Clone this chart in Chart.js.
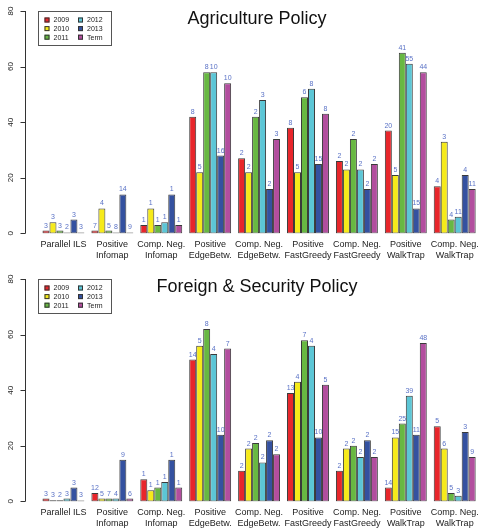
<!DOCTYPE html>
<html>
<head>
<meta charset="utf-8">
<script src="https://cdn.jsdelivr.net/npm/chart.js@4"></script>
<style>
  html, body { margin: 0; padding: 0; background: #fff; overflow: hidden; }
  .panel { position: absolute; left: 0; width: 485px; }
  #top { top: 0; height: 268px; }
  #bottom { top: 268px; height: 267px; }
</style>
</head>
<body>
<div class="panel" id="top"><canvas id="agriChart"></canvas></div>
<div class="panel" id="bottom"><canvas id="foreignChart"></canvas></div>
<script>
const years = ['2009', '2010', '2011', '2012', '2013', 'Term'];
const categories = [
    ['Parallel ILS'], ['Positive', 'Infomap'], ['Comp. Neg.', 'Infomap'],
    ['Positive', 'EdgeBetw.'], ['Comp. Neg.', 'EdgeBetw.'], ['Positive', 'FastGreedy'],
    ['Comp. Neg.', 'FastGreedy'], ['Positive', 'WalkTrap'], ['Comp. Neg.', 'WalkTrap']
];
const yTicks = [0, 20, 40, 60, 80];
const colors = ['#e8262b', '#f6ea1a', '#68b842', '#5cc6d6', '#3451a0', '#b24e9e'];

// bar heights, one row per year (2009..2013, Term)
const agriValues = [
    [1, 1, 3, 42, 27, 38, 26, 37, 17],
    [4, 9, 9, 22, 22, 22, 23, 21, 33],
    [1, 1, 3, 58, 42, 49, 34, 65, 5],
    [0, 0, 4, 58, 48, 52, 23, 61, 6],
    [5, 14, 14, 28, 16, 25, 16, 9, 21],
    [0, 0, 3, 54, 34, 43, 25, 58, 16]
];
// numbers printed above the bars
const agriLabels = [
    [3, 7, 1, 8, 2, 8, 2, 20, 4],
    [3, 4, 1, 5, 2, 5, 2, 5, 3],
    [3, 5, 1, 8, 2, 6, 2, 41, 4],
    [2, 8, 1, 10, 3, 8, 2, 55, 11],
    [3, 14, 1, 16, 2, 15, 2, 15, 4],
    [3, 9, 1, 10, 3, 8, 2, 44, 11]
];
const foreignValues = [
    [1, 3, 8, 51, 11, 39, 11, 5, 27],
    [0.4, 1, 4, 56, 19, 43, 19, 23, 19],
    [0.4, 1, 5, 62, 21, 58, 20, 28, 3],
    [1, 1, 7, 53, 14, 56, 16, 38, 2],
    [5, 15, 15, 24, 22, 23, 22, 24, 25],
    [0, 1, 5, 55, 17, 42, 16, 57, 16]
];
const foreignLabels = [
    [3, 12, 1, 14, 2, 13, 2, 14, 5],
    [3, 5, 1, 5, 2, 4, 2, 15, 6],
    [2, 7, 1, 8, 2, 7, 2, 25, 5],
    [3, 4, 1, 4, 2, 4, 2, 39, 3],
    [3, 9, 1, 10, 2, 10, 2, 11, 3],
    [3, 6, 1, 7, 2, 5, 2, 48, 9]
];

const FONT = '"Liberation Sans", Arial, Helvetica, sans-serif';

// R style decorations: y axis off to the left, title, legend box, numbers over bars
const decorPlugin = {
    id: 'decor',
    afterDraw(chart) {
        const ctx = chart.ctx;
        const area = chart.chartArea;
        const y = chart.scales.y;
        const opts = chart.options.plugins.decor;
        ctx.save();

        // y axis
        const ax = 25.5;
        ctx.strokeStyle = '#333';
        ctx.lineWidth = 1;
        ctx.beginPath();
        ctx.moveTo(ax, y.getPixelForValue(yTicks[0]));
        ctx.lineTo(ax, y.getPixelForValue(yTicks[yTicks.length - 1]));
        yTicks.forEach(t => {
            const py = Math.round(y.getPixelForValue(t)) + 0.5;
            ctx.moveTo(ax, py);
            ctx.lineTo(ax - 5, py);
        });
        ctx.stroke();
        ctx.fillStyle = '#222';
        ctx.font = '8px ' + FONT;
        ctx.textAlign = 'center';
        ctx.textBaseline = 'middle';
        yTicks.forEach(t => {
            ctx.save();
            ctx.translate(11, y.getPixelForValue(t));
            ctx.rotate(-Math.PI / 2);
            ctx.fillText(String(t), 0, 0);
            ctx.restore();
        });

        // title
        ctx.font = '18px ' + FONT;
        ctx.fillStyle = '#111';
        ctx.fillText(opts.title, (area.left + area.right) / 2 - 2, area.top + 8);

        // numbers above bars
        ctx.font = '7px ' + FONT;
        ctx.fillStyle = '#5a72c6';
        ctx.textBaseline = 'alphabetic';
        chart.data.datasets.forEach((ds, i) => {
            const meta = chart.getDatasetMeta(i);
            meta.data.forEach((bar, j) => {
                ctx.fillText(String(opts.labels[i][j]), bar.x, bar.y - 3);
            });
        });

        // legend
        const lx = 38.5, ly = 11.5, lw = 73, lh = 34;
        ctx.fillStyle = '#fff';
        ctx.fillRect(lx, ly, lw, lh);
        ctx.strokeStyle = '#555';
        ctx.strokeRect(lx, ly, lw, lh);
        ctx.font = '7px ' + FONT;
        ctx.textAlign = 'left';
        ctx.textBaseline = 'middle';
        chart.data.datasets.forEach((ds, i) => {
            const col = Math.floor(i / 3), row = i % 3;
            const sx = lx + 6 + col * 33.5;
            const sy = ly + 8.5 + row * 8.6;
            ctx.fillStyle = ds.backgroundColor;
            ctx.fillRect(sx, sy - 2.5, 5, 5);
            ctx.strokeStyle = '#333';
            ctx.strokeRect(sx + 0.5, sy - 2, 4, 4);
            ctx.fillStyle = '#222';
            ctx.fillText(ds.label, sx + 9, sy + 0.5);
        });
        ctx.restore();
    }
};

function makeChart(canvasId, title, values, labels, padBottom) {
    new Chart(document.getElementById(canvasId), {
        type: 'bar',
        data: {
            labels: categories,
            datasets: years.map((yr, i) => ({
                label: yr,
                data: values[i],
                backgroundColor: colors[i],
                borderColor: '#3a3a3a',
                borderWidth: 1,
                borderSkipped: false,
                minBarLength: 1
            }))
        },
        options: {
            responsive: true,
            maintainAspectRatio: false,
            animation: false,
            layout: { padding: { left: 39, right: 5, top: 11, bottom: padBottom } },
            datasets: {
                bar: { categoryPercentage: 6 / 7, barPercentage: 1 }
            },
            plugins: {
                legend: { display: false },
                tooltip: { enabled: false },
                decor: { title: title, labels: labels }
            },
            scales: {
                x: {
                    grid: { display: false, drawTicks: false },
                    border: { display: false },
                    ticks: {
                        color: '#222',
                        padding: 6,
                        maxRotation: 0,
                        autoSkip: false,
                        font: { family: FONT, size: 9, lineHeight: 1.2 }
                    }
                },
                y: {
                    display: false,
                    min: 0,
                    max: 80
                }
            }
        },
        plugins: [decorPlugin]
    });
}

makeChart('agriChart', 'Agriculture Policy', agriValues, agriLabels, 1);
makeChart('foreignChart', 'Foreign & Security Policy', foreignValues, foreignLabels, 0);
</script>
</body>
</html>
